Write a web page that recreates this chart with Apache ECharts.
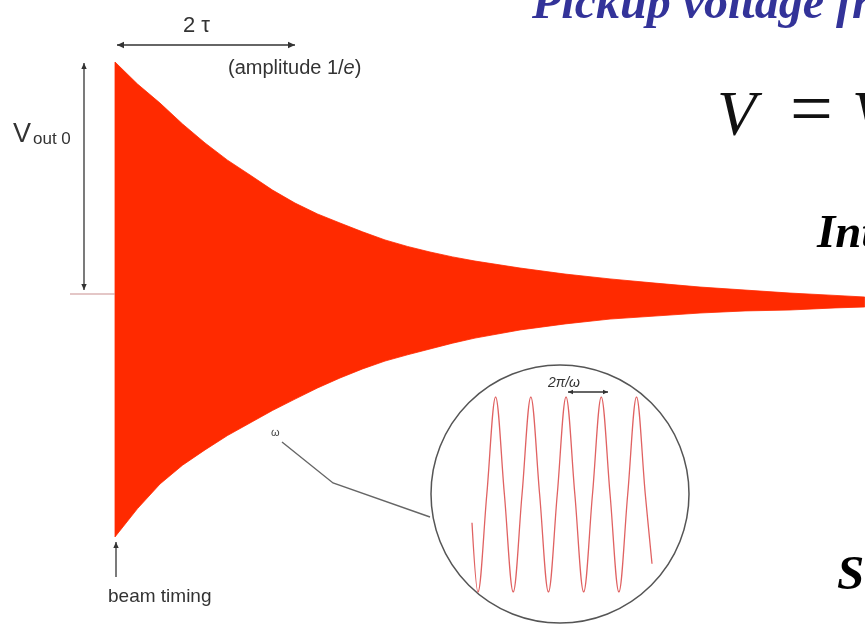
<!DOCTYPE html>
<html>
<head>
<meta charset="utf-8">
<script src="https://cdn.jsdelivr.net/npm/echarts@6/dist/echarts.min.js"></script>
<style>
  html, body { margin: 0; padding: 0; background: #ffffff; }
  #c { width: 865px; height: 627px; }
</style>
</head>
<body>
<div id="c"></div>
<script>
// Decaying pickup signal: envelope of the ringing, time in units of tau
const tSamples = [0, 0.25, 0.5, 0.75, 1, 1.25, 1.5, 1.75, 2, 2.25, 2.5, 2.75, 3, 3.25, 3.5, 3.75,
                  4, 4.5, 5, 5.5, 6, 6.5, 7, 7.5, 8, 8.33];
const upperEnv = [1.000, 0.905, 0.823, 0.733, 0.651, 0.577, 0.513, 0.448, 0.392, 0.345, 0.306, 0.268,
                  0.233, 0.205, 0.181, 0.160, 0.142, 0.112, 0.086, 0.065, 0.047, 0.030, 0.017, 0.004,
                  -0.006, -0.013];
const lowerEnv = [-1.047, -0.925, -0.819, -0.738, -0.672, -0.610, -0.556, -0.502, -0.453, -0.405,
                  -0.362, -0.323, -0.289, -0.262, -0.237, -0.212, -0.190, -0.155, -0.129, -0.108,
                  -0.095, -0.082, -0.073, -0.069, -0.060, -0.056];

// Zero line ahead of the beam arrival
const baseT = [-0.5, 0];
const baseV = [0, 0];

// Magnified view of the carrier: time in RF periods, normalised voltage
const zoomT = [-0.17, 0, 0.25, 0.5, 0.75, 1, 1.25, 1.5, 1.75, 2, 2.25, 2.5, 2.75,
               3, 3.25, 3.5, 3.75, 4, 4.25, 4.5, 4.75, 4.94];
const zoomV = [-0.29, -1, 0, 1, 0, -1, 0, 1, 0, -1, 0, 1, 0,
               -1, 0, 1, 0, -1, 0, 1, 0, -0.71];

const RED = '#ff2a00';
const INK = '#333333';
const SANS = '"Liberation Sans", Arial, sans-serif';
const SERIF = '"Liberation Serif", "Times New Roman", serif';

const envData = tSamples.map((t, i) => [t, upperEnv[i], lowerEnv[i]]);
const baseData = baseT.map((t, i) => [t, baseV[i]]);
const zoomData = zoomT.map((t, i) => [t, zoomV[i]]);

const hiddenAxis = { show: false, axisLine: { show: false }, splitLine: { show: false }, axisTick: { show: false }, axisLabel: { show: false } };

// Filled band between the upper and lower envelope, built from every sample
function renderEnvelope(params, api) {
  if (params.dataIndexInside !== 0) return null;
  const n = params.dataInsideLength;
  const upper = [], lower = [];
  for (let i = 0; i < n; i++) {
    const t = api.value(0, i);
    upper.push(api.coord([t, api.value(1, i)]));
    lower.push(api.coord([t, api.value(2, i)]));
  }
  return {
    type: 'polygon',
    shape: { points: upper.concat(lower.reverse()) },
    style: { fill: RED, stroke: RED, lineWidth: 0.8 }
  };
}

const option = {
  animation: false,
  backgroundColor: '#ffffff',
  grid: [
    { left: 70, top: 62, width: 795, height: 487.2 },
    { left: 472, top: 397, width: 180, height: 195 }
  ],
  xAxis: [
    Object.assign({ type: 'value', gridIndex: 0, min: -0.5, max: 8.333 }, hiddenAxis),
    Object.assign({ type: 'value', gridIndex: 1, min: -0.17, max: 4.94 }, hiddenAxis)
  ],
  yAxis: [
    Object.assign({ type: 'value', gridIndex: 0, min: -1.1, max: 1.0 }, hiddenAxis),
    Object.assign({ type: 'value', gridIndex: 1, min: -1, max: 1 }, hiddenAxis)
  ],
  series: [
    {
      name: 'baseline', type: 'line', xAxisIndex: 0, yAxisIndex: 0,
      data: baseData, symbol: 'none', silent: true,
      lineStyle: { width: 1, color: '#c98f8f' }
    },
    {
      name: 'signal', type: 'custom', xAxisIndex: 0, yAxisIndex: 0,
      data: envData, silent: true, z: 3,
      encode: { x: 0, y: [1, 2] },
      renderItem: renderEnvelope
    },
    {
      name: 'carrier', type: 'line', xAxisIndex: 1, yAxisIndex: 1,
      data: zoomData, symbol: 'none', smooth: 0.35, silent: true, z: 5,
      lineStyle: { width: 1.3, color: '#e06262' }
    }
  ]
};

const chart = echarts.init(document.getElementById('c'), null, { renderer: 'canvas' });
chart.setOption(option);

const px = (t, v) => chart.convertToPixel({ gridIndex: 0 }, [t, v]);

function arrow(x1, y1, x2, y2, color, head, ends) {
  const a = Math.atan2(y2 - y1, x2 - x1);
  const els = [{ type: 'line', z: 10, shape: { x1, y1, x2, y2 }, style: { stroke: color, lineWidth: 1.3 } }];
  const tips = [];
  if (ends.start) tips.push([x1, y1, a + Math.PI]);
  if (ends.end) tips.push([x2, y2, a]);
  tips.forEach(([x, y, ang]) => {
    const bx = x - head * Math.cos(ang), by = y - head * Math.sin(ang);
    const w = head * 0.45;
    els.push({
      type: 'polygon', z: 10,
      shape: { points: [[x, y], [bx + w * Math.sin(ang), by - w * Math.cos(ang)], [bx - w * Math.sin(ang), by + w * Math.cos(ang)]] },
      style: { fill: color }
    });
  });
  return els;
}

function txt(text, x, y, font, color) {
  return {
    type: 'text', z: 10,
    style: { text, x, y, font, fill: color, align: 'left', verticalAlign: 'middle' }
  };
}

const t0 = px(0, 0);
const t2 = px(2, 0);
const top0 = px(0, 1);

const graphics = [];
// magnifier circle
graphics.push({ type: 'circle', z: 0, shape: { cx: 560, cy: 494, r: 129 }, style: { fill: '#ffffff', stroke: '#555555', lineWidth: 1.5 } });
// leader from omega label to the magnifier
graphics.push({ type: 'polyline', z: 1, shape: { points: [[282, 442], [333, 483], [430, 517]] }, style: { stroke: '#666666', lineWidth: 1.4, fill: null } });
graphics.push(txt('ω', 271, 433, '11px ' + SANS, '#444444'));

// 2 tau dimension
graphics.push(...arrow(t0[0] + 2, 45, t2[0], 45, INK, 7, { start: true, end: true }));
graphics.push(txt('2 τ', 183, 26, '22px ' + SANS, INK));
graphics.push({
  type: 'text', z: 10,
  style: {
    text: '(amplitude 1/{e|e})', x: 228, y: 68, font: '20px ' + SANS, fill: INK,
    align: 'left', verticalAlign: 'middle',
    rich: { e: { fontStyle: 'italic', fontSize: 20, fontFamily: SANS, fill: INK } }
  }
});

// Vout0 dimension
graphics.push(...arrow(84, top0[1] + 1, 84, t0[1] - 4, INK, 6, { start: true, end: true }));
graphics.push(txt('V', 13, 135, '27px ' + SANS, INK));
graphics.push(txt('out 0', 33, 139, '17px ' + SANS, INK));

// beam timing
graphics.push(...arrow(t0[0] + 1, 577, t0[0] + 1, 542, INK, 6, { start: false, end: true }));
graphics.push(txt('beam timing', 108, 597, '19px ' + SANS, INK));

// period inside the magnifier
graphics.push(...arrow(568, 392, 608, 392, INK, 5, { start: true, end: true }));
graphics.push(txt('2π/ω', 548, 383, 'italic 14px ' + SANS, INK));

// slide text
graphics.push(txt('Pickup voltage from', 532, 6, 'italic bold 48px ' + SERIF, '#333399'));
graphics.push(txt('V', 717, 118, 'italic 64px ' + SERIF, '#111111'));
graphics.push(txt('=', 790, 114, '76px ' + SERIF, '#111111'));
graphics.push(txt('V', 852, 118, 'italic 64px ' + SERIF, '#111111'));
graphics.push(txt('Intensity', 817, 235, 'italic bold 47px ' + SERIF, '#000000'));
graphics.push(txt('Signal', 837, 576, 'italic bold 49px ' + SERIF, '#000000'));

chart.setOption({ graphic: { elements: graphics } });
</script>
</body>
</html>
